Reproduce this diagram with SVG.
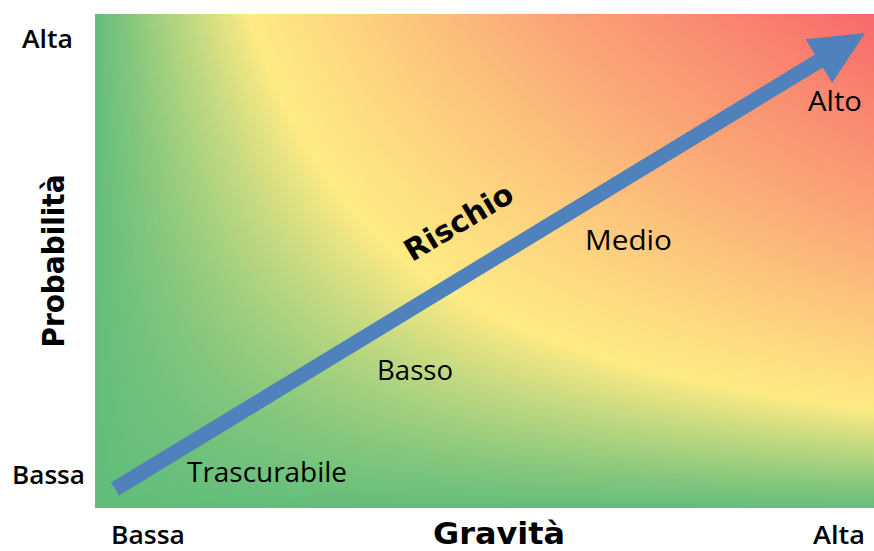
<svg xmlns="http://www.w3.org/2000/svg" width="874" height="551" viewBox="0 0 874 551">
<defs>
<linearGradient id="gx" x1="0" y1="0" x2="1" y2="0">
<stop offset="0" stop-color="#000000"/>
<stop offset="1" stop-color="#FF0000"/>
</linearGradient>
<linearGradient id="gy" x1="0" y1="0" x2="0" y2="1">
<stop offset="0" stop-color="#000000" stop-opacity="0"/>
<stop offset="1" stop-color="#000000" stop-opacity="1"/>
</linearGradient>
<filter id="heat" x="0" y="0" width="1" height="1" color-interpolation-filters="sRGB">
<feColorMatrix type="matrix" values="1 0 0 0 0  1 0 0 0 0  1 0 0 0 0  0 0 0 0 1"/>
<feComponentTransfer>
<feFuncR type="table" tableValues="0.388 0.694 1 0.996 0.991 0.987 0.983 0.980 0.978 0.975 0.973"/>
<feFuncG type="table" tableValues="0.745 0.833 0.922 0.849 0.776 0.703 0.638 0.582 0.525 0.468 0.412"/>
<feFuncB type="table" tableValues="0.482 0.500 0.518 0.503 0.489 0.474 0.462 0.451 0.440 0.430 0.420"/>
</feComponentTransfer>
</filter>
<style>
.lbl{font-family:"Open Sans","Liberation Sans",sans-serif;font-size:27px;fill:#000}
.ax{font-family:"Open Sans","Liberation Sans",sans-serif;font-size:26px;font-weight:600;fill:#000}
.ttl{font-family:"DejaVu Sans","Liberation Sans",sans-serif;font-size:30px;font-weight:bold;fill:#000}
.arrow{fill:#4F81BD}
</style>
</defs>
<g id="background" filter="url(#heat)">
<rect x="95" y="14" width="779" height="494" fill="url(#gx)"/>
<rect x="95" y="14" width="779" height="494" fill="url(#gy)"/>
</g>
<g id="connectors">
<polygon id="risk-arrow" class="arrow" points="111.1,482.6 815.0,54.6 805.7,39.2 865,33 832.1,82.8 822.8,67.4 118.9,495.4"/>
</g>
<g id="axis-y">
<text class="ax" x="22" y="48" textLength="51" lengthAdjust="spacingAndGlyphs">Alta</text>
<text class="ax" x="12" y="484" textLength="73" lengthAdjust="spacingAndGlyphs">Bassa</text>
<text class="ttl" transform="translate(64,261) rotate(-90)" text-anchor="middle" textLength="173" lengthAdjust="spacingAndGlyphs">Probabilità</text>
</g>
<g id="axis-x">
<text class="ax" x="111" y="544" textLength="74" lengthAdjust="spacingAndGlyphs">Bassa</text>
<text class="ax" x="813" y="544" textLength="52" lengthAdjust="spacingAndGlyphs">Alta</text>
<text class="ttl" x="433" y="544" textLength="132" lengthAdjust="spacingAndGlyphs">Gravità</text>
</g>
<g id="risk-label">
<text class="ttl" transform="translate(464,231) rotate(-31)" text-anchor="middle" font-size="32">Rischio</text>
</g>
<g id="level-trascurabile"><text class="lbl" x="187" y="482" textLength="160" lengthAdjust="spacingAndGlyphs">Trascurabile</text></g>
<g id="level-basso"><text class="lbl" x="377" y="380" textLength="76" lengthAdjust="spacingAndGlyphs">Basso</text></g>
<g id="level-medio"><text class="lbl" x="585" y="250" textLength="87" lengthAdjust="spacingAndGlyphs">Medio</text></g>
<g id="level-alto"><text class="lbl" x="808" y="111" textLength="54" lengthAdjust="spacingAndGlyphs">Alto</text></g>
</svg>
